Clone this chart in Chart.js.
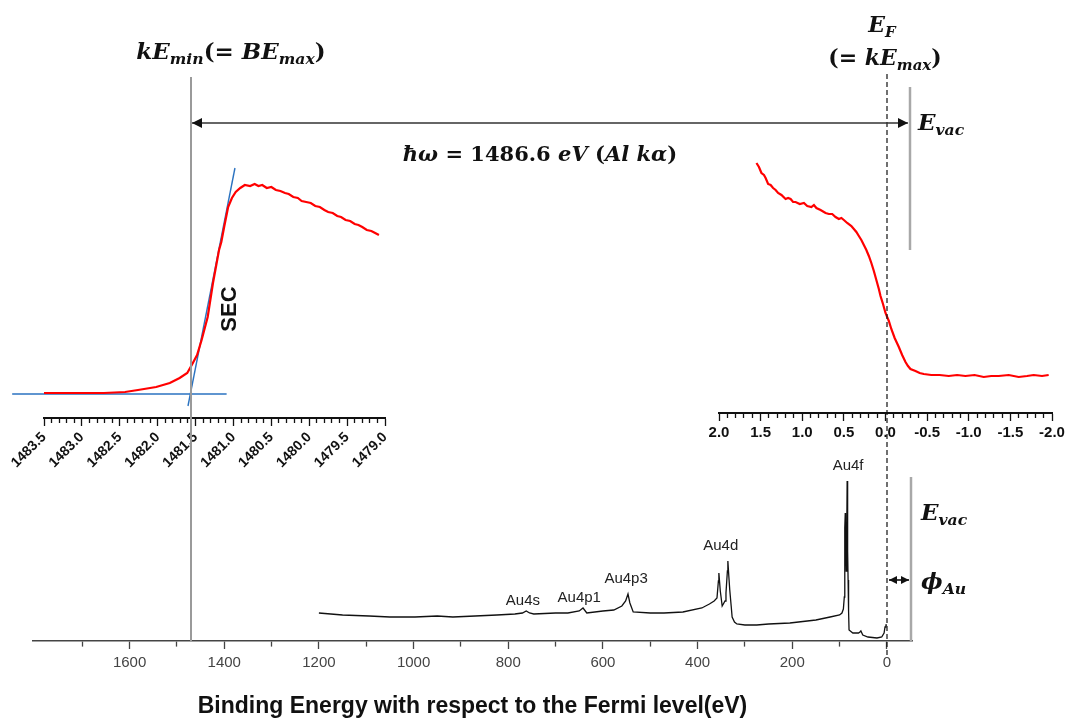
<!DOCTYPE html>
<html>
<head>
<meta charset="utf-8">
<script src="https://cdn.jsdelivr.net/npm/chart.js@4.4.1/dist/chart.umd.min.js"></script>
<style>
  body { margin: 0; background: #fff; }
  #page { position: relative; width: 1065px; height: 720px; overflow: hidden; }
  canvas, svg { position: absolute; }
  .m { position: absolute; font-family: 'DejaVu Serif', 'Liberation Serif', serif; font-weight: bold; font-style: italic;
       white-space: nowrap; transform: translate(-50%, -50%); color: #111; line-height: 1; }
  .m .up { font-style: normal; }
  .m sub { font-size: 68%; vertical-align: -0.32em; line-height: 0; }
  .l { transform: translate(0, -50%); }
  #sec { position: absolute; left: 229px; top: 309px; transform: translate(-50%, -50%) rotate(-90deg);
         font: bold 22px 'Liberation Sans', Arial, sans-serif; color: #111; }
</style>
</head>
<body>
<div id="page">
  <canvas id="keChart" width="420" height="380" style="left:0px;top:98px"></canvas>
  <canvas id="fermiChart" width="385" height="360" style="left:680px;top:98px"></canvas>
  <canvas id="surveyChart" width="1065" height="280" style="left:0px;top:440px"></canvas>

  <svg width="1065" height="720" style="left:0;top:0">
    <defs>
      <marker id="ah" viewBox="0 0 10 10" refX="10" refY="5" markerWidth="12" markerHeight="10"
              markerUnits="userSpaceOnUse" orient="auto-start-reverse">
        <path d="M0,0 L10,5 L0,10 z" fill="#111"/>
      </marker>
      <marker id="ahs" viewBox="0 0 10 10" refX="10" refY="5" markerWidth="8" markerHeight="8"
              markerUnits="userSpaceOnUse" orient="auto-start-reverse">
        <path d="M0,0 L10,5 L0,10 z" fill="#111"/>
      </marker>
    </defs>
    <line x1="191" y1="77" x2="191" y2="641" stroke="#9a9a9a" stroke-width="2"/>
    <line x1="910" y1="87" x2="910" y2="250" stroke="#a8a8a8" stroke-width="2.5"/>
    <line x1="911" y1="477" x2="911" y2="641" stroke="#a8a8a8" stroke-width="2.5"/>
    <line x1="887" y1="74" x2="887" y2="655" stroke="#111" stroke-width="1.2" stroke-dasharray="5,3"/>
    <line x1="192" y1="123" x2="908" y2="123" stroke="#333" stroke-width="1.6"
          marker-start="url(#ah)" marker-end="url(#ah)"/>
    <line x1="889" y1="580" x2="909" y2="580" stroke="#111" stroke-width="1.6"
          marker-start="url(#ahs)" marker-end="url(#ahs)"/>
  </svg>

  <div class="m" style="left:231px;top:50px;font-size:23px">kE<sub>min</sub><span class="up">(= </span>BE<sub>max</sub><span class="up">)</span></div>
  <div class="m" style="left:540px;top:153px;font-size:21px">ħω <span class="up">= 1486.6</span> eV <span class="up">(</span>Al kα<span class="up">)</span></div>
  <div class="m" style="left:882px;top:24px;font-size:22px">E<sub>F</sub></div>
  <div class="m" style="left:885px;top:57px;font-size:22px"><span class="up">(= </span>kE<sub>max</sub><span class="up">)</span></div>
  <div class="m l" style="left:918px;top:121px;font-size:23px">E<sub>vac</sub></div>
  <div class="m l" style="left:921px;top:511px;font-size:23px">E<sub>vac</sub></div>
  <div class="m l" style="left:921px;top:580px;font-size:23px">ϕ<sub>Au</sub></div>
  <div id="sec">SEC</div>
</div>

<script>
// secondary electron cutoff (kinetic energy, eV)
let secKE = [1483.50, 1483.20, 1482.90, 1482.71, 1482.43, 1482.26, 1482.02, 1481.84, 1481.71, 1481.61,
  1481.55, 1481.48, 1481.42, 1481.34, 1481.27, 1481.19, 1481.16, 1481.12, 1481.07, 1481.02,
  1480.97, 1480.91, 1480.85, 1480.78, 1480.72, 1480.67, 1480.62, 1480.56, 1480.50, 1480.44,
  1480.38, 1480.32, 1480.27, 1480.21, 1480.15, 1480.10, 1480.04, 1479.98, 1479.92, 1479.86,
  1479.80, 1479.75, 1479.69, 1479.63, 1479.58, 1479.52, 1479.46, 1479.40, 1479.35, 1479.30,
  1479.24, 1479.18, 1479.13, 1479.08];
let secCounts = [25, 25, 25, 25, 26, 28, 31, 35, 40, 45,
  53, 63, 78, 101, 135, 168, 176, 192, 211, 220,
  226, 230, 233, 232, 234, 232, 233, 230, 231, 228,
  227, 225, 224, 221, 220, 217, 216, 215, 212, 211,
  208, 206, 205, 202, 201, 198, 197, 194, 193, 191,
  188, 187, 185, 183];
// linear fits used to find the cutoff
let baseFitKE = [1483.92, 1481.09];
let baseFitCounts = [24, 24];
let edgeFitKE = [1481.60, 1480.98];
let edgeFitCounts = [12, 250];
let keTicks = ['1483.5', '1483.0', '1482.5', '1482.0', '1481.5', '1481.0', '1480.5', '1480.0', '1479.5', '1479.0'];

// valence band near the Fermi edge (binding energy, eV)
let fermiBE = [1.55, 1.52, 1.49, 1.46, 1.44, 1.41, 1.38, 1.35, 1.32, 1.29, 1.25, 1.20, 1.17, 1.14, 1.11,
  1.08, 1.03, 0.98, 0.94, 0.89, 0.86, 0.83, 0.78, 0.72, 0.68, 0.64, 0.60, 0.56, 0.53, 0.50,
  0.46, 0.41, 0.38, 0.35, 0.32, 0.29, 0.26, 0.23, 0.20, 0.17, 0.14, 0.11, 0.08, 0.06, 0.03,
  0.00, -0.04, -0.07, -0.11, -0.16, -0.20, -0.24, -0.27, -0.30, -0.36, -0.41, -0.46, -0.55, -0.65,
  -0.76, -0.86, -0.96, -1.07, -1.18, -1.27, -1.36, -1.48, -1.60, -1.70, -1.78, -1.88, -1.96];
let fermiCounts = [250, 246, 240, 238, 235, 229, 228, 225, 223, 220, 218, 214, 215, 214, 211,
  211, 209, 210, 207, 206, 208, 205, 203, 200, 199, 199, 196, 194, 195, 193,
  190, 187, 184, 181, 177, 173, 168, 163, 157, 150, 142, 133, 124, 117, 109,
  100, 92, 84, 75, 66, 58, 51, 47, 44, 42, 40, 39, 38, 38,
  37, 38, 37, 38, 36, 37, 37, 38, 36, 37, 38, 37, 38];
let fermiTicks = ['2.0', '1.5', '1.0', '0.5', '0.0', '-0.5', '-1.0', '-1.5', '-2.0'];

// Au survey spectrum (binding energy, eV)
let surveyBE = [1200, 1150, 1094, 1050, 997, 950, 917, 870, 824, 786, 770, 762, 755, 746, 700, 674, 650,
  642, 634, 600, 577, 560, 552, 547, 543, 536, 500, 471, 431, 391, 375, 365, 359, 356, 355,
  352, 348, 342, 340, 337, 336, 334, 332, 329, 327, 322, 317, 300, 275, 250, 205, 150, 120,
  100, 95, 92, 90, 89, 88, 87.5, 86, 85, 84, 83, 82, 81, 80, 72, 60, 57, 55, 51, 40, 21,
  11, 6, 4, 2, 0];
let surveyCounts = [28, 26, 25, 24, 24, 25, 24, 25, 26, 27, 28, 30, 28, 27, 28, 28, 30,
  33, 28, 30, 31, 35, 40, 47, 38, 29, 28, 28, 29, 33, 37, 40, 43, 60, 68,
  50, 35, 40, 48, 70, 80, 65, 51, 35, 24, 19, 17, 16, 16, 17, 18, 21, 24,
  26, 28, 32, 44, 113, 128, 110, 70, 100, 160, 90, 61, 30, 11, 8, 8, 9, 10, 6, 4, 3,
  4, 8, 14, 16, 16];
let surveyTicks = ['1600', '1400', '1200', '1000', '800', '600', '400', '200', '0'];
let peakNames = ['Au4s', 'Au4p1', 'Au4p3', 'Au4d', 'Au4f'];
let peakBE = [769, 650, 551, 351, 82];

function pts(xs, ys) {
  return xs.map((x, i) => ({x: x, y: ys[i]}));
}

// ticks every step, labels only where the label list has them
function tickAxis(min, max, step, labels, opts) {
  let n = Math.round((max - min) / step);
  return {
    type: 'linear', reverse: true, min: opts.min, max: opts.max,
    afterBuildTicks: s => {
      let t = [];
      for (let i = 0; i <= n; i++) t.push({value: +(min + i * step).toFixed(3)});
      s.ticks = t;
    },
    afterFit: s => { s.height = opts.height; },
    border: {display: true, color: opts.color, width: opts.lineWidth},
    grid: {
      display: true, drawOnChartArea: false, drawTicks: true,
      tickLength: opts.major, tickColor: opts.color, tickWidth: 1.3,
      tickBorderDash: c => isLabelled(c.tick.value, labels) ? [] : [opts.minor, 40]
    },
    ticks: {
      autoSkip: false, color: opts.color, font: opts.font, padding: opts.padding,
      minRotation: opts.rot, maxRotation: opts.rot,
      callback: v => labelFor(v, labels)
    },
    title: opts.title || {display: false}
  };
}
function isLabelled(v, labels) { return labelFor(v, labels) !== ''; }
function labelFor(v, labels) {
  let hit = labels.find(l => Math.abs(parseFloat(l) - v) < 1e-6);
  return hit === undefined ? '' : hit;
}

let hiddenY = (max) => ({type: 'linear', display: false, min: 0, max: max});

let common = {
  responsive: false, animation: false,
  plugins: {legend: {display: false}, tooltip: {enabled: false}},
  elements: {point: {radius: 0}, line: {tension: 0}}
};

// kinetic energy panel (SEC)
new Chart(document.getElementById('keChart'), {
  type: 'line',
  data: {datasets: [
    {data: pts(secKE, secCounts), borderColor: '#ff0000', borderWidth: 2.2},
    {data: pts(baseFitKE, baseFitCounts), borderColor: '#2a72c0', borderWidth: 1.6, clip: false},
    {data: pts(edgeFitKE, edgeFitCounts), borderColor: '#2a72c0', borderWidth: 1.4, clip: false}
  ]},
  options: Object.assign({}, common, {
    layout: {padding: {left: 44, right: 35, top: 20, bottom: 0}},
    scales: {
      x: tickAxis(1479.0, 1483.5, 0.1, keTicks, {min: 1479.0, max: 1483.5, height: 60, color: '#111',
        lineWidth: 2, major: 8, minor: 4, padding: 3, rot: 45,
        font: {family: "'Liberation Sans', Arial", size: 14, weight: 'bold'}}),
      y: hiddenY(300)
    }
  })
});

// Fermi edge panel
new Chart(document.getElementById('fermiChart'), {
  type: 'line',
  data: {datasets: [
    {data: pts(fermiBE, fermiCounts), borderColor: '#ff0000', borderWidth: 2.2}
  ]},
  options: Object.assign({}, common, {
    layout: {padding: {left: 39, right: 13, top: 20, bottom: 0}},
    scales: {
      x: tickAxis(-2.0, 2.0, 0.1, fermiTicks, {min: -2.0, max: 2.0, height: 45, color: '#111',
        lineWidth: 2, major: 8, minor: 4, padding: 3, rot: 0,
        font: {family: "'Liberation Sans', Arial", size: 15, weight: 'bold'}}),
      y: hiddenY(295)
    }
  })
});

// survey panel, peak names drawn just above the highest count near each peak
let peakLabels = {
  id: 'peakLabels',
  afterDatasetsDraw(chart) {
    let xs = chart.scales.x, ys = chart.scales.y, ctx = chart.ctx;
    ctx.save();
    ctx.font = "15px 'Liberation Sans', Arial";
    ctx.fillStyle = '#222';
    ctx.textAlign = 'center';
    ctx.textBaseline = 'bottom';
    peakNames.forEach((name, i) => {
      let top = 0;
      surveyBE.forEach((e, j) => { if (Math.abs(e - peakBE[i]) < 20) top = Math.max(top, surveyCounts[j]); });
      let gap = top < 40 ? 3 : 8;
      ctx.fillText(name, xs.getPixelForValue(peakBE[i]), ys.getPixelForValue(top) - gap);
    });
    ctx.restore();
  }
};

new Chart(document.getElementById('surveyChart'), {
  type: 'line',
  data: {datasets: [
    {data: pts(surveyBE, surveyCounts), borderColor: '#111', borderWidth: 1.3}
  ]},
  options: Object.assign({}, common, {
    layout: {padding: {left: 33, right: 153, top: 20, bottom: 0}},
    scales: {
      x: tickAxis(0, 1700, 100, surveyTicks, {min: -53, max: 1804, height: 79, color: '#444',
        lineWidth: 1.6, major: 8, minor: 5, padding: 5, rot: 0,
        font: {family: "'Liberation Sans', Arial", size: 15},
        title: {display: true, text: 'Binding Energy with respect to the Fermi level(eV)', color: '#111',
          font: {family: "'Liberation Sans', Arial", size: 23, weight: 'bold'}, padding: {top: 0, bottom: 0}}}),
      y: hiddenY(181)
    }
  }),
  plugins: [peakLabels]
});
</script>
</body>
</html>
